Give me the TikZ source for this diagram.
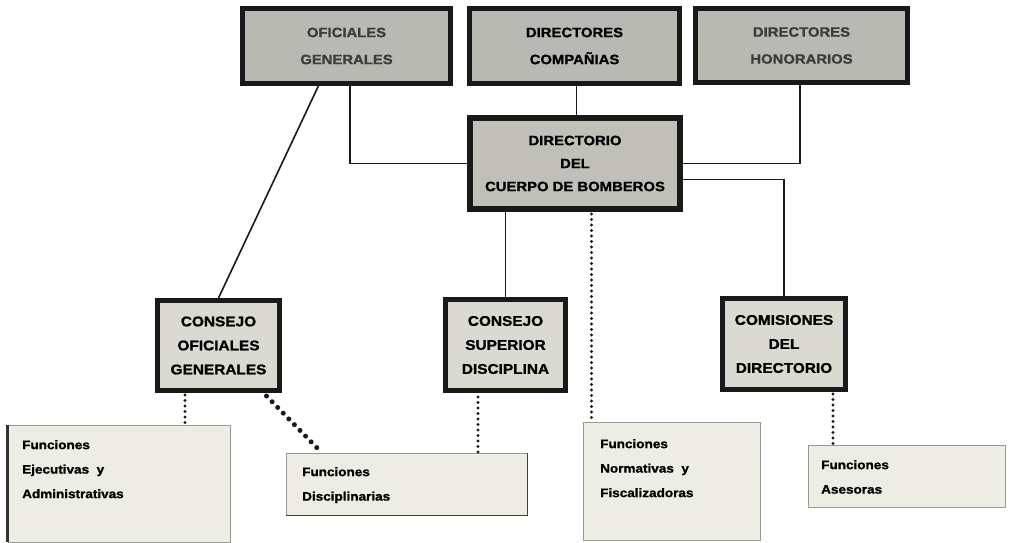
\documentclass[tikz,border=0pt]{standalone}
\usepackage{fontspec}
\setmainfont{Liberation Sans}[FakeStretch=1.1, BoldFeatures={FakeBold=1.2}]
\usetikzlibrary{calc}
\definecolor{topfill}{HTML}{B9B9B4}
\definecolor{dirfill}{HTML}{C0C0B8}
\definecolor{cfill}{HTML}{DADAD2}
\definecolor{ffill}{HTML}{EDEDE6}
\definecolor{fline}{HTML}{9A9A94}
\definecolor{toptext}{HTML}{3C3C3C}
\tikzset{
  topbox/.style={draw=black!90, line width=4.5pt, fill=topfill, inner sep=0pt,
    align=center, text=toptext, font=\fontsize{13.5}{27}\selectfont\bfseries},
  dirbox/.style={draw=black!90, line width=6pt, fill=dirfill, inner sep=0pt,
    align=center, font=\fontsize{13.5}{23}\selectfont\bfseries},
  cbox/.style={draw=black!90, line width=5pt, fill=cfill, inner sep=0pt,
    align=center, font=\fontsize{14}{24}\selectfont\bfseries},
  fbox/.style={draw=fline, line width=0.8pt, fill=ffill, inner sep=0pt},
  ftext/.style={anchor=north west, align=left, inner sep=0pt,
    font=\fontsize{12.3}{24.5}\selectfont\bfseries},
  link/.style={line width=1.6pt, black!90},
  dots/.style={line width=3.4pt, black!90, dash pattern=on 0pt off 5.5pt, line cap=round},
  bigdots/.style={line width=5pt, black!90, dash pattern=on 0pt off 8pt, line cap=round}
}
\begin{document}
\begin{tikzpicture}[x=1pt,y=-1pt]
\useasboundingbox (0,0) rectangle (1025,543);
% top boxes
\node[topbox, minimum width=208, minimum height=75] (og) at (346.5,46) {OFICIALES\\GENERALES};
\node[topbox, minimum width=210, minimum height=75, text=black] (dc) at (574.5,46) {DIRECTORES\\COMPAÑIAS};
\node[topbox, minimum width=212, minimum height=74] (dh) at (801.5,45.5) {DIRECTORES\\HONORARIOS};
% directorio
\node[dirbox, minimum width=210, minimum height=91] (dir) at (575,163.5) {DIRECTORIO\\DEL\\CUERPO DE BOMBEROS};
% consejos
\node[cbox, minimum width=122, minimum height=90] (cog) at (218.5,345.5) {CONSEJO\\OFICIALES\\GENERALES};
\node[cbox, minimum width=120, minimum height=91] (csd) at (505.5,345) {CONSEJO\\SUPERIOR\\DISCIPLINA};
\node[cbox, minimum width=123, minimum height=91] (com) at (784,344) {COMISIONES\\DEL\\DIRECTORIO};
% funciones boxes
\node[fbox, minimum width=222, minimum height=117] (fe) at (119,483.5) {};
\draw[line width=2.5pt, black!80] (fe.north west) -- (fe.south west);
\node[fbox, minimum width=241, minimum height=62] (fd) at (406.5,484) {};
\draw[line width=1.8pt, black!75] (fd.south west) -- (fd.south east) -- (fd.north east);
\node[fbox, minimum width=177, minimum height=118] (fn) at (671.5,481) {};
\node[fbox, minimum width=197, minimum height=62] (fa) at (906.5,476) {};
\node[ftext] (fet) at (22,440) {Funciones\\Ejecutivas~ y\\Administrativas};
\node[ftext] (fdt) at (302,467) {Funciones\\Disciplinarias};
\node[ftext] (fnt) at (600,439) {Funciones\\Normativas~ y\\Fiscalizadoras};
\node[ftext] (fat) at (821,460) {Funciones\\Asesoras};
% connectors
\draw[link] (og.south) ++(3.5,0) |- (dir.west);
\draw[link] (dc.south) ++(2,0) coordinate (c1) -- (c1 |- dir.north);
\draw[link] (dh.south) ++(-1.5,0) |- (dir.east);
\draw[link] (dir.east) ++(0,16) -| (com.north);
\draw[link] (og.south) ++(-28,0) -- (cog.north);
\draw[link] (dir.south -| csd.north) -- (csd.north);
\draw[dots] (dir.south) ++(16.5,2) coordinate (d1) -- (d1 |- fn.north);
\draw[dots] (cog.south) ++(-33.5,2) coordinate (d2) -- (d2 |- fe.north);
\draw[bigdots] (cog.south) ++(48,3) -- ($(fd.north west)+(36,0)$);
\draw[dots] (csd.south) ++(-27.5,4) coordinate (d3) -- (d3 |- fd.north);
\draw[dots] (com.south) ++(49,2) coordinate (d4) -- (d4 |- fa.north);
\end{tikzpicture}
\end{document}
